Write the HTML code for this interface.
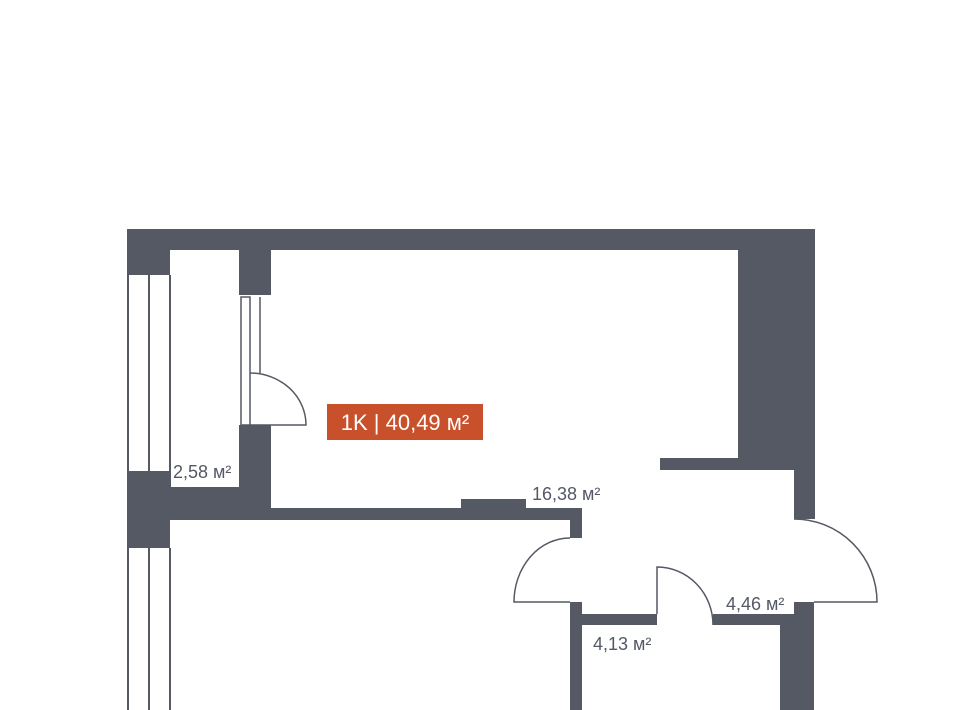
<!DOCTYPE html>
<html><head><meta charset="utf-8"><style>
html,body{margin:0;padding:0;background:#fff;width:960px;height:710px;overflow:hidden}
svg{display:block}
text{font-family:"Liberation Sans",sans-serif;fill:#555965}
</style></head><body>
<svg width="960" height="710" viewBox="0 0 960 710" xmlns="http://www.w3.org/2000/svg">
<g fill="#555963">
<rect x="127" y="229" width="688" height="21"/>
<rect x="127" y="229" width="43" height="46"/>
<rect x="239" y="250" width="32" height="45"/>
<rect x="239" y="425" width="32" height="95"/>
<rect x="127" y="471" width="144" height="49"/>
<rect x="127" y="520" width="43" height="28"/>
<rect x="170" y="508" width="412" height="12"/>
<rect x="461" y="499" width="65" height="12"/>
<rect x="570" y="508" width="12" height="30"/>
<rect x="570" y="602" width="12" height="108"/>
<rect x="582" y="614" width="75" height="11"/>
<rect x="713" y="614" width="81" height="11"/>
<rect x="780" y="614" width="14" height="96"/>
<rect x="794" y="602" width="20" height="108"/>
<rect x="738" y="229" width="77" height="241"/>
<rect x="660" y="458" width="155" height="12"/>
<rect x="794" y="458" width="21" height="61"/>
</g>
<rect x="171" y="250" width="68" height="237" fill="#fff"/>
<g stroke="#555963" stroke-width="2" fill="none">
<line x1="128" y1="275" x2="128" y2="471"/>
<line x1="149" y1="275" x2="149" y2="471"/>
<line x1="170" y1="275" x2="170" y2="471"/>
<line x1="128" y1="548" x2="128" y2="710"/>
<line x1="149" y1="548" x2="149" y2="710"/>
<line x1="170" y1="548" x2="170" y2="710"/>
</g>
<g stroke="#555963" stroke-width="1.5" fill="none">
<rect x="241" y="297" width="9" height="128"/>
<line x1="260" y1="297" x2="260" y2="373"/>
<path d="M250 373 A56 52 0 0 1 306 425 L250 425"/>
<path d="M570 538 A56 64 0 0 0 514 602 L570 602"/>
<path d="M657 614 L657 567 A56 58 0 0 1 713 625"/>
<path d="M794 519 A83 83 0 0 1 877 602 L814 602"/>
</g>
<rect x="327" y="404" width="156" height="36" fill="#c8502a"/>
<text x="405" y="430" text-anchor="middle" style="fill:#fff;font-size:22px">1K | 40,49 м²</text>
<text x="173" y="478" font-size="18">2,58 м²</text>
<text x="532" y="500" font-size="18">16,38 м²</text>
<text x="726" y="610" font-size="18">4,46 м²</text>
<text x="593" y="650" font-size="18">4,13 м²</text>
</svg>
</body></html>
